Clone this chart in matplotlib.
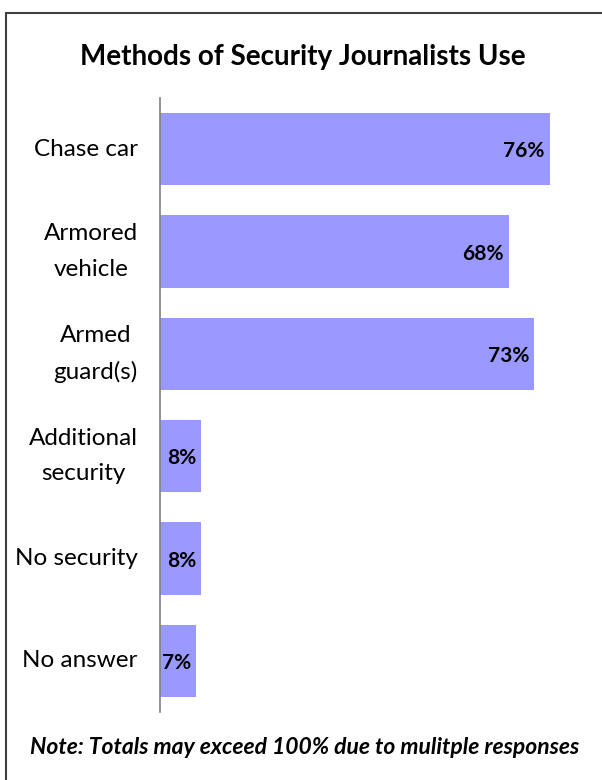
import matplotlib.pyplot as plt
from matplotlib.patches import Rectangle

categories = ['Chase car', 'Armored\nvehicle', 'Armed\nguard(s)',
              'Additional\nsecurity', 'No security', 'No answer']
values = [76, 68, 73, 8, 8, 7]
labels = ['76%', '68%', '73%', '8%', '8%', '7%']

plt.rcParams['font.family'] = ['Lato', 'DejaVu Sans']

W, H = 602, 780
fig = plt.figure(figsize=(W / 100, H / 100), dpi=100)

# frame round the chart, open to the right and bottom
fig.patches.append(Rectangle((6 / W, -0.1), 1.2, 1 - 13 / H + 0.1,
                             transform=fig.transFigure, fill=False,
                             edgecolor='#404040', linewidth=1.5))

ax = fig.add_axes([160 / W, 1 - 712 / H, 410 / W, 614 / H])
y = list(range(len(categories)))
ax.barh(y, values, height=0.71, color='#9999FF')
ax.set_ylim(len(categories) - 0.5, -0.5)
ax.set_xlim(0, 80)

for yi, v, lab in zip(y, values, labels):
    ax.text(v - 1.0, yi + 0.02, lab, ha='right', va='center',
            fontsize=15, fontweight='bold', color='black')

ax.set_yticks(y)
ax.set_yticklabels(categories, fontsize=17.5, linespacing=1.85)
ax.tick_params(axis='y', length=0, pad=16)
ax.set_xticks([])
for s in ['top', 'right', 'bottom']:
    ax.spines[s].set_visible(False)
ax.spines['left'].set_color('#808080')
ax.spines['left'].set_linewidth(1.2)
for t in ax.get_yticklabels():
    t.set_multialignment('center')
    t.set_verticalalignment('center')

fig.text(303 / W, 1 - 57 / H, 'Methods of Security Journalists Use',
         ha='center', va='center', fontsize=20, fontweight='bold')
fig.text(305 / W, 1 - 747 / H,
         'Note: Totals may exceed 100% due to mulitple responses',
         ha='center', va='center', fontsize=16.5, fontweight='bold',
         fontstyle='italic')

fig.savefig('out.png', dpi=100)
